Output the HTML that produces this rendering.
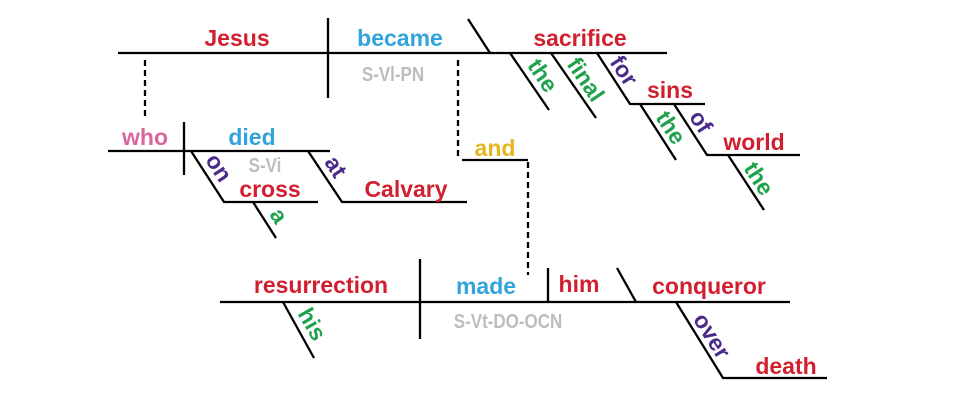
<!DOCTYPE html>
<html><head><meta charset="utf-8"><style>
html,body{margin:0;padding:0;background:#fff;}
svg{display:block}
text{font-family:"Liberation Sans",sans-serif;font-weight:bold;font-size:23px;text-anchor:middle}
.r{fill:#d21f2f}.b{fill:#33a3dc}.g{fill:#1ea24c}.p{fill:#4b2b8a}.k{fill:#d8679d}.y{fill:#e6b61e}
.gr{fill:#bdbdbd;font-size:20px}
line,polyline{stroke:#000;stroke-width:2.3;fill:none}
.d{stroke-dasharray:6,4}
</style></head><body>
<svg width="960" height="408" viewBox="0 0 960 408">
<line x1="118" y1="53" x2="667" y2="53"/>
<line x1="328" y1="18" x2="328" y2="98"/>
<line x1="468" y1="19" x2="490" y2="53"/>
<text x="237" y="46" class="r">Jesus</text>
<text x="400" y="46" class="b">became</text>
<text class="gr" transform="translate(393,81) scale(0.85,1)">S-Vl-PN</text>
<text x="580" y="46" class="r">sacrifice</text>
<line x1="510" y1="53" x2="549" y2="110"/>
<text class="g" transform="translate(533,82) rotate(56)" y="-4">the</text>
<line x1="551" y1="53" x2="596" y2="118"/>
<text class="g" transform="translate(576,86) rotate(56)" y="-4">final</text>
<polyline points="597,53 630,104 705,104"/>
<text class="p" transform="translate(614,77) rotate(57)" y="-4">for</text>
<text x="670" y="98" class="r">sins</text>
<line x1="640" y1="104" x2="676" y2="160"/>
<text class="g" transform="translate(661,134) rotate(57)" y="-4">the</text>
<polyline points="674,104 707,155 800,155"/>
<text class="p" transform="translate(691,128) rotate(57)" y="-4">of</text>
<text x="754" y="150" class="r">world</text>
<line x1="728" y1="155" x2="764" y2="210"/>
<text class="g" transform="translate(749,185) rotate(57)" y="-4">the</text>
<line class="d" x1="145" y1="60" x2="145" y2="117"/>
<line x1="108" y1="151" x2="330" y2="151"/>
<line x1="184" y1="122" x2="184" y2="175"/>
<text x="145" y="145" class="k">who</text>
<text x="252" y="145" class="b">died</text>
<text class="gr" transform="translate(265,172) scale(0.85,1)">S-Vi</text>
<polyline points="191,151 224,202 318,202"/>
<text class="p" transform="translate(209,174) rotate(57)" y="-4">on</text>
<text x="270" y="197" class="r">cross</text>
<line x1="253" y1="202" x2="276" y2="238"/>
<text class="g" transform="translate(269,222) rotate(57)" y="-4">a</text>
<polyline points="308,151 342,202 467,202"/>
<text class="p" transform="translate(326,173) rotate(57)" y="-4">at</text>
<text x="406" y="197" class="r">Calvary</text>
<line class="d" x1="458" y1="60" x2="458" y2="160"/>
<line x1="462" y1="160" x2="528" y2="160"/>
<line class="d" x1="528" y1="162" x2="528" y2="275"/>
<text x="495" y="156" class="y">and</text>
<line x1="220" y1="302" x2="790" y2="302"/>
<line x1="420" y1="259" x2="420" y2="339"/>
<text x="321" y="293" class="r">resurrection</text>
<line x1="283" y1="302" x2="314" y2="358"/>
<text class="g" transform="translate(302,330) rotate(60)" y="-4">his</text>
<text x="486" y="294" class="b">made</text>
<line x1="548" y1="268" x2="548" y2="302"/>
<text x="579" y="292" class="r">him</text>
<line x1="617" y1="268" x2="636" y2="302"/>
<text x="709" y="294" class="r">conqueror</text>
<text class="gr" transform="translate(508,328) scale(0.85,1)">S-Vt-DO-OCN</text>
<polyline points="676,302 723,378 827,378"/>
<text class="p" transform="translate(702,342) rotate(58)" y="-4">over</text>
<text x="786" y="374" class="r">death</text>
</svg>
</body></html>
